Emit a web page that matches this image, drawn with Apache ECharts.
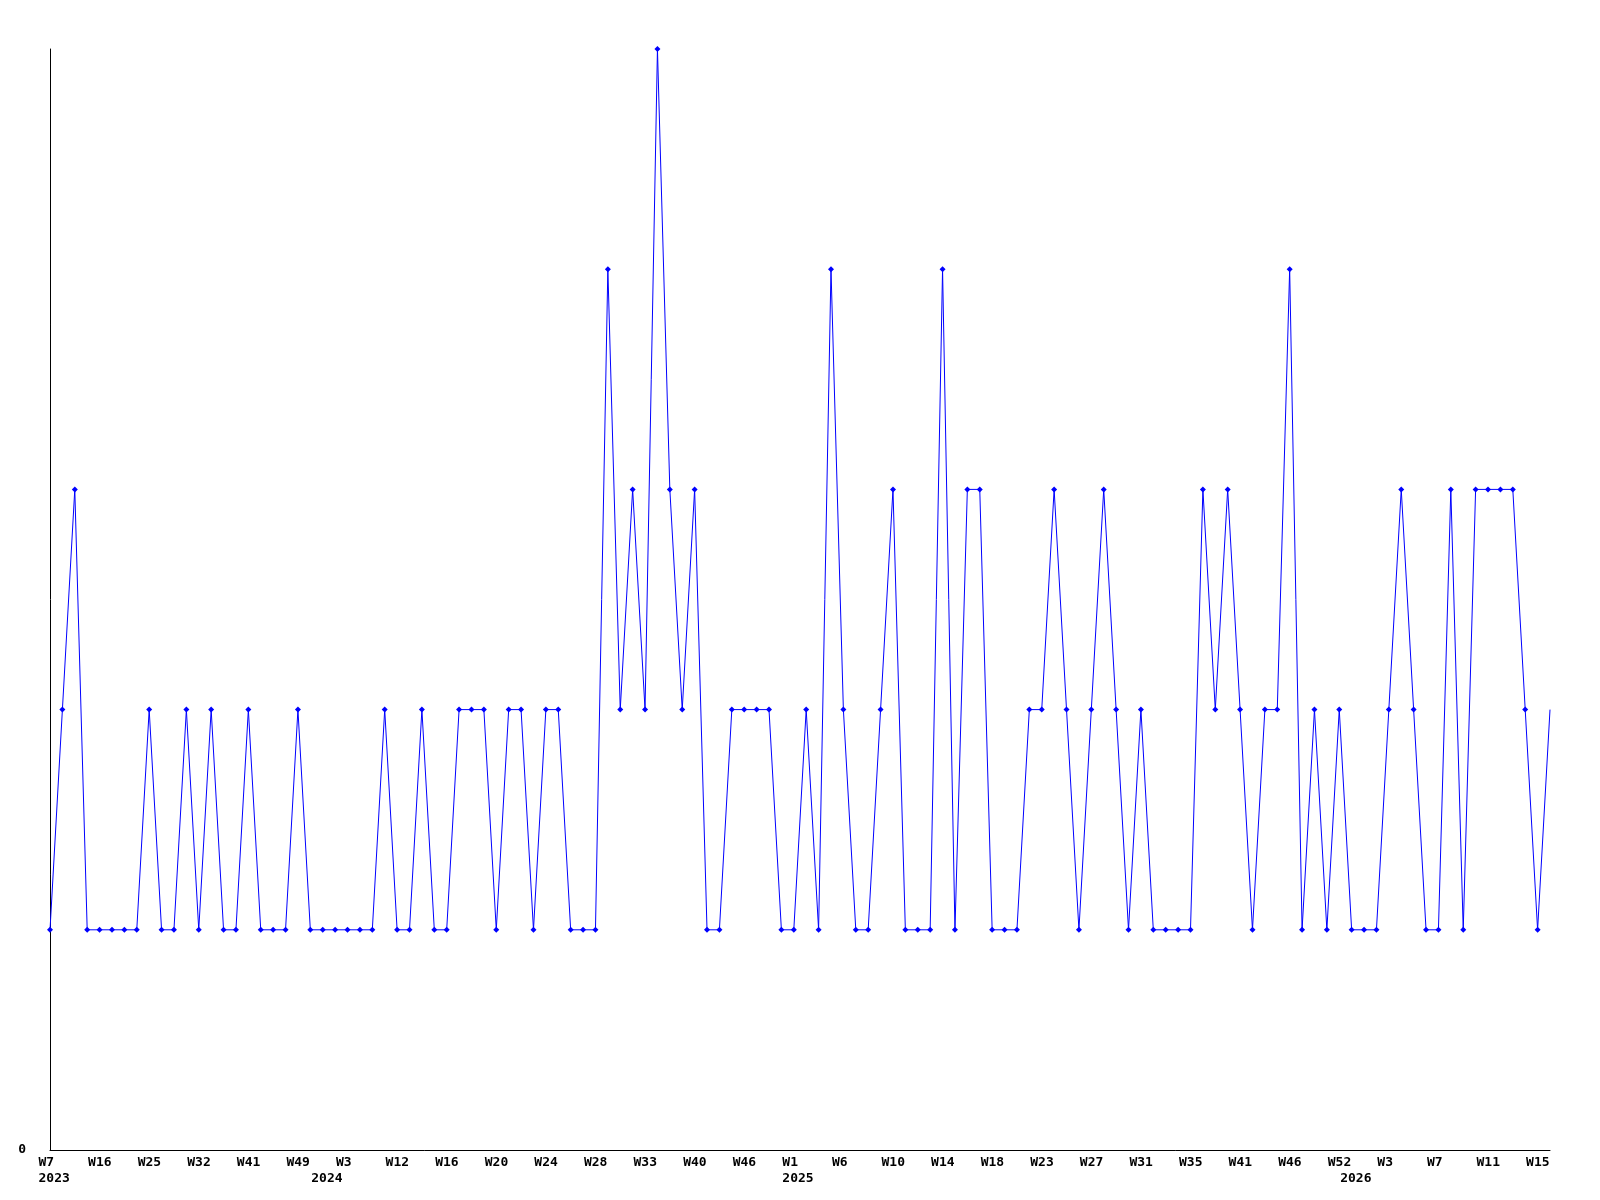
<!DOCTYPE html>
<html>
<head>
<meta charset="utf-8">
<script src="https://cdn.jsdelivr.net/npm/echarts@6/dist/echarts.min.js"></script>
<style>html,body{margin:0;padding:0;background:#fff;}#c{width:1600px;height:1200px;}</style>
</head>
<body>
<div id="c"></div>
<script>
// Series values, one per data point (122 points)
const values = [
  1,2,3,1,1,1,1,1,2,1,
  1,2,1,2,1,1,2,1,1,1,
  2,1,1,1,1,1,1,2,1,1,
  2,1,1,2,2,2,1,2,2,1,
  2,2,1,1,1,4,2,3,2,5,
  3,2,3,1,1,2,2,2,2,1,
  1,2,1,4,2,1,1,2,3,1,
  1,1,4,1,3,3,1,1,1,2,
  2,3,2,1,2,3,2,1,2,1,
  1,1,1,3,2,3,2,1,2,2,
  4,1,2,1,2,1,1,1,2,3,
  2,1,1,3,1,3,3,3,3,2,
  1,2
];
// Week tick labels, shown on every 4th point
const tickLabels = [
  'W7','W16','W25','W32','W41','W49','W3','W12','W16','W20',
  'W24','W28','W33','W40','W46','W1','W6','W10','W14','W18',
  'W23','W27','W31','W35','W41','W46','W52','W3','W7','W11','W15'
];
// Year labels: point index where each year label sits
const yearIdx = [0, 22, 60, 105];
const yearNames = ['2023', '2024', '2025', '2026'];

const categories = values.map((v, i) => 'p' + i);
const labelStep = 4;

const chart = echarts.init(document.getElementById('c'), null, {renderer: 'canvas'});
const font = {fontFamily: 'DejaVu Sans Mono', fontWeight: 'bold', fontSize: 13, color: '#000'};

chart.setOption({
  animation: false,
  backgroundColor: '#fff',
  grid: [
    {left: 50, right: 50, top: 49, bottom: 50},
    {left: 38.5, right: 61.5, top: 49, bottom: 50}
  ],
  xAxis: [
    {
      type: 'category', gridIndex: 0, data: categories, boundaryGap: false,
      axisLine: {show: true, lineStyle: {color: '#000', width: 1}},
      axisTick: {show: false}, axisLabel: {show: false}, splitLine: {show: false}
    },
    {
      type: 'category', gridIndex: 1, data: categories, boundaryGap: false,
      axisLine: {show: false}, axisTick: {show: false}, splitLine: {show: false},
      axisLabel: Object.assign({
        interval: 0, align: 'left', margin: 5, lineHeight: 16, hideOverlap: false,
        formatter: function (val, idx) {
          const wk = idx % labelStep === 0 ? (tickLabels[idx / labelStep] || '') : '';
          const yi = yearIdx.indexOf(idx);
          if (yi >= 0) return wk + '\n' + yearNames[yi];
          return wk;
        }
      }, font)
    }
  ],
  yAxis: [
    {
      type: 'value', gridIndex: 0, min: 0, max: 5, interval: 5,
      axisLine: {show: true, lineStyle: {color: '#000', width: 1}},
      axisTick: {show: false}, splitLine: {show: false},
      axisLabel: Object.assign({margin: 24, formatter: v => v === 0 ? '0' : ''}, font)
    },
    {type: 'value', gridIndex: 1, min: 0, max: 5, show: false}
  ],
  series: [{
    type: 'line',
    xAxisIndex: 0, yAxisIndex: 0,
    data: values.map((v, i) => i === values.length - 1 ? {value: v, symbol: 'none'} : v),
    symbol: 'diamond', symbolSize: 6, showAllSymbol: true,
    lineStyle: {color: '#0000ff', width: 1},
    itemStyle: {color: '#0000ff'},
    emphasis: {disabled: true}
  }]
});
</script>
</body>
</html>
